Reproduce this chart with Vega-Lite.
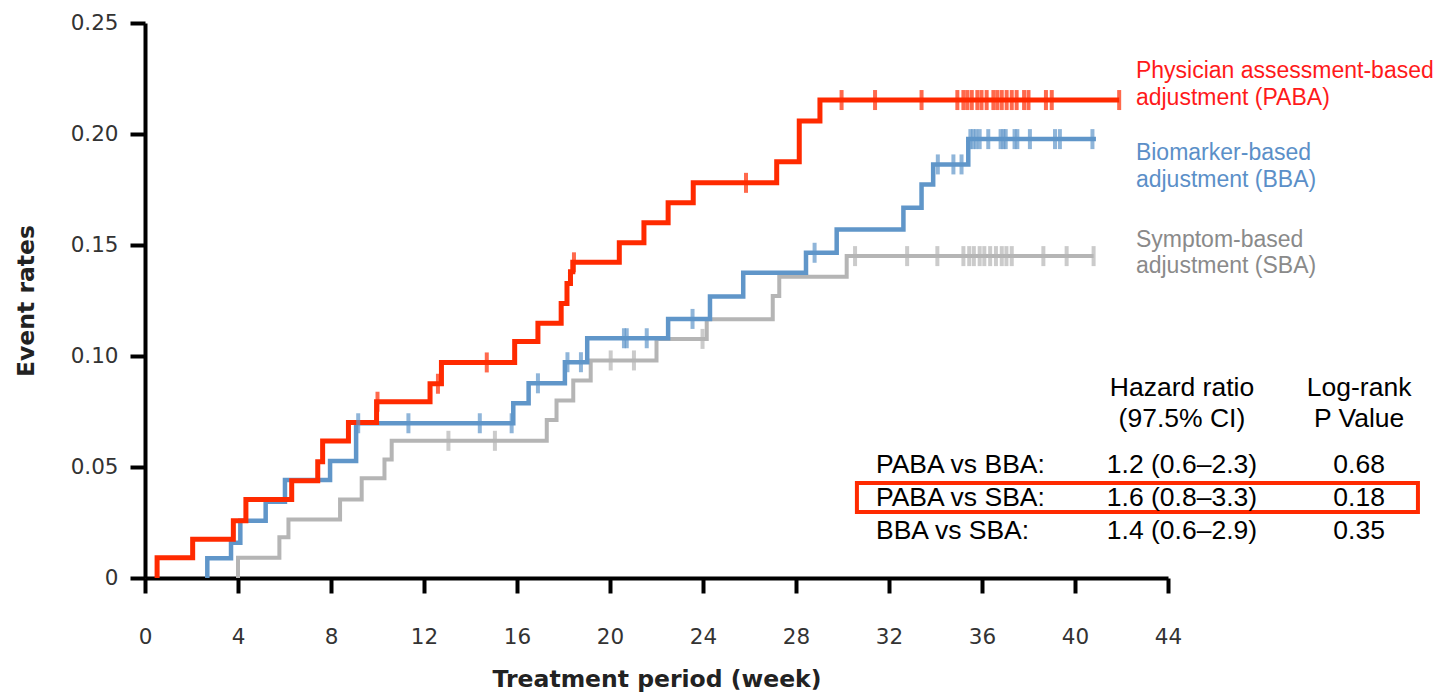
{
  "$schema": "https://vega.github.io/schema/vega-lite/v6.json",
  "width": 1023,
  "height": 555,
  "autosize": {"type": "none"},
  "padding": {"left": 145, "top": 23, "right": 280, "bottom": 117},
  "background": "white",
  "config": {"view": {"stroke": null}, "axis": {"grid": false}},
  "datasets": {
    "curves": [
      {"group": "SBA", "week": 4.0, "rate": 0},
      {"group": "SBA", "week": 4.0, "rate": 0.0091},
      {"group": "SBA", "week": 5.78, "rate": 0.0183},
      {"group": "SBA", "week": 6.17, "rate": 0.0264},
      {"group": "SBA", "week": 8.39, "rate": 0.0354},
      {"group": "SBA", "week": 9.32, "rate": 0.0449},
      {"group": "SBA", "week": 10.3, "rate": 0.0534},
      {"group": "SBA", "week": 10.61, "rate": 0.0618},
      {"group": "SBA", "week": 17.28, "rate": 0.0712},
      {"group": "SBA", "week": 17.7, "rate": 0.080},
      {"group": "SBA", "week": 18.42, "rate": 0.089},
      {"group": "SBA", "week": 19.17, "rate": 0.098},
      {"group": "SBA", "week": 22.0, "rate": 0.1077},
      {"group": "SBA", "week": 24.16, "rate": 0.1165},
      {"group": "SBA", "week": 27.0, "rate": 0.127},
      {"group": "SBA", "week": 27.28, "rate": 0.1357},
      {"group": "SBA", "week": 30.18, "rate": 0.145},
      {"group": "SBA", "week": 40.8, "rate": 0.145},
      {"group": "BBA", "week": 2.68, "rate": 0},
      {"group": "BBA", "week": 2.68, "rate": 0.0089},
      {"group": "BBA", "week": 3.7, "rate": 0.0159},
      {"group": "BBA", "week": 4.1, "rate": 0.0258},
      {"group": "BBA", "week": 5.19, "rate": 0.0344},
      {"group": "BBA", "week": 6.02, "rate": 0.0441},
      {"group": "BBA", "week": 7.96, "rate": 0.0527},
      {"group": "BBA", "week": 9.08, "rate": 0.0697},
      {"group": "BBA", "week": 15.84, "rate": 0.0787},
      {"group": "BBA", "week": 16.5, "rate": 0.0877},
      {"group": "BBA", "week": 18.06, "rate": 0.0972},
      {"group": "BBA", "week": 19.02, "rate": 0.108},
      {"group": "BBA", "week": 22.5, "rate": 0.1167},
      {"group": "BBA", "week": 24.3, "rate": 0.1268},
      {"group": "BBA", "week": 25.73, "rate": 0.1375},
      {"group": "BBA", "week": 28.43, "rate": 0.1465},
      {"group": "BBA", "week": 29.75, "rate": 0.157},
      {"group": "BBA", "week": 32.62, "rate": 0.1668},
      {"group": "BBA", "week": 33.4, "rate": 0.1773},
      {"group": "BBA", "week": 33.9, "rate": 0.1863},
      {"group": "BBA", "week": 35.41, "rate": 0.1977},
      {"group": "BBA", "week": 40.9, "rate": 0.1977},
      {"group": "PABA", "week": 0.52, "rate": 0},
      {"group": "PABA", "week": 0.52, "rate": 0.0091},
      {"group": "PABA", "week": 2.05, "rate": 0.0174},
      {"group": "PABA", "week": 3.8, "rate": 0.0258},
      {"group": "PABA", "week": 4.34, "rate": 0.0354},
      {"group": "PABA", "week": 6.31, "rate": 0.0438},
      {"group": "PABA", "week": 7.43, "rate": 0.0524},
      {"group": "PABA", "week": 7.64, "rate": 0.0617},
      {"group": "PABA", "week": 8.75, "rate": 0.070},
      {"group": "PABA", "week": 9.96, "rate": 0.0794},
      {"group": "PABA", "week": 12.26, "rate": 0.0875},
      {"group": "PABA", "week": 12.75, "rate": 0.0971},
      {"group": "PABA", "week": 15.9, "rate": 0.1065},
      {"group": "PABA", "week": 16.9, "rate": 0.1147},
      {"group": "PABA", "week": 17.9, "rate": 0.1237},
      {"group": "PABA", "week": 18.15, "rate": 0.1327},
      {"group": "PABA", "week": 18.3, "rate": 0.138},
      {"group": "PABA", "week": 18.4, "rate": 0.1422},
      {"group": "PABA", "week": 20.4, "rate": 0.151},
      {"group": "PABA", "week": 21.46, "rate": 0.160},
      {"group": "PABA", "week": 22.5, "rate": 0.169},
      {"group": "PABA", "week": 23.58, "rate": 0.178},
      {"group": "PABA", "week": 27.17, "rate": 0.1875},
      {"group": "PABA", "week": 28.14, "rate": 0.2059},
      {"group": "PABA", "week": 29.03, "rate": 0.2153},
      {"group": "PABA", "week": 41.9, "rate": 0.2153}
    ],
    "censored": [
      {"group": "SBA", "week": 13.05, "rate": 0.0618},
      {"group": "SBA", "week": 15.05, "rate": 0.0618},
      {"group": "SBA", "week": 20.03, "rate": 0.098},
      {"group": "SBA", "week": 21.03, "rate": 0.098},
      {"group": "SBA", "week": 23.98, "rate": 0.1077},
      {"group": "SBA", "week": 30.54, "rate": 0.145},
      {"group": "SBA", "week": 32.78, "rate": 0.145},
      {"group": "SBA", "week": 34.08, "rate": 0.145},
      {"group": "SBA", "week": 35.2, "rate": 0.145},
      {"group": "SBA", "week": 35.45, "rate": 0.145},
      {"group": "SBA", "week": 35.65, "rate": 0.145},
      {"group": "SBA", "week": 35.9, "rate": 0.145},
      {"group": "SBA", "week": 36.1, "rate": 0.145},
      {"group": "SBA", "week": 36.35, "rate": 0.145},
      {"group": "SBA", "week": 36.6, "rate": 0.145},
      {"group": "SBA", "week": 36.85, "rate": 0.145},
      {"group": "SBA", "week": 37.05, "rate": 0.145},
      {"group": "SBA", "week": 37.28, "rate": 0.145},
      {"group": "SBA", "week": 38.64, "rate": 0.145},
      {"group": "SBA", "week": 39.64, "rate": 0.145},
      {"group": "SBA", "week": 40.8, "rate": 0.145},
      {"group": "BBA", "week": 9.17, "rate": 0.0697},
      {"group": "BBA", "week": 11.33, "rate": 0.0697},
      {"group": "BBA", "week": 14.4, "rate": 0.0697},
      {"group": "BBA", "week": 15.77, "rate": 0.0697},
      {"group": "BBA", "week": 16.9, "rate": 0.0877},
      {"group": "BBA", "week": 18.17, "rate": 0.0972},
      {"group": "BBA", "week": 18.75, "rate": 0.0972},
      {"group": "BBA", "week": 20.6, "rate": 0.108},
      {"group": "BBA", "week": 20.72, "rate": 0.108},
      {"group": "BBA", "week": 21.58, "rate": 0.108},
      {"group": "BBA", "week": 23.55, "rate": 0.1167},
      {"group": "BBA", "week": 28.8, "rate": 0.1465},
      {"group": "BBA", "week": 34.1, "rate": 0.1863},
      {"group": "BBA", "week": 34.77, "rate": 0.1863},
      {"group": "BBA", "week": 35.12, "rate": 0.1863},
      {"group": "BBA", "week": 35.5, "rate": 0.1977},
      {"group": "BBA", "week": 35.62, "rate": 0.1977},
      {"group": "BBA", "week": 35.75, "rate": 0.1977},
      {"group": "BBA", "week": 35.9, "rate": 0.1977},
      {"group": "BBA", "week": 36.27, "rate": 0.1977},
      {"group": "BBA", "week": 36.8, "rate": 0.1977},
      {"group": "BBA", "week": 36.92, "rate": 0.1977},
      {"group": "BBA", "week": 37.02, "rate": 0.1977},
      {"group": "BBA", "week": 37.4, "rate": 0.1977},
      {"group": "BBA", "week": 37.52, "rate": 0.1977},
      {"group": "BBA", "week": 38.06, "rate": 0.1977},
      {"group": "BBA", "week": 39.14, "rate": 0.1977},
      {"group": "BBA", "week": 39.35, "rate": 0.1977},
      {"group": "BBA", "week": 40.75, "rate": 0.1977},
      {"group": "PABA", "week": 10.0, "rate": 0.0794},
      {"group": "PABA", "week": 12.6, "rate": 0.0875},
      {"group": "PABA", "week": 14.7, "rate": 0.0971},
      {"group": "PABA", "week": 18.45, "rate": 0.1422},
      {"group": "PABA", "week": 25.85, "rate": 0.178},
      {"group": "PABA", "week": 29.96, "rate": 0.2153},
      {"group": "PABA", "week": 31.4, "rate": 0.2153},
      {"group": "PABA", "week": 33.4, "rate": 0.2153},
      {"group": "PABA", "week": 34.94, "rate": 0.2153},
      {"group": "PABA", "week": 35.2, "rate": 0.2153},
      {"group": "PABA", "week": 35.37, "rate": 0.2153},
      {"group": "PABA", "week": 35.56, "rate": 0.2153},
      {"group": "PABA", "week": 35.8, "rate": 0.2153},
      {"group": "PABA", "week": 35.98, "rate": 0.2153},
      {"group": "PABA", "week": 36.2, "rate": 0.2153},
      {"group": "PABA", "week": 36.49, "rate": 0.2153},
      {"group": "PABA", "week": 36.66, "rate": 0.2153},
      {"group": "PABA", "week": 36.85, "rate": 0.2153},
      {"group": "PABA", "week": 37.06, "rate": 0.2153},
      {"group": "PABA", "week": 37.28, "rate": 0.2153},
      {"group": "PABA", "week": 37.49, "rate": 0.2153},
      {"group": "PABA", "week": 37.81, "rate": 0.2153},
      {"group": "PABA", "week": 38.0, "rate": 0.2153},
      {"group": "PABA", "week": 38.75, "rate": 0.2153},
      {"group": "PABA", "week": 39.0, "rate": 0.2153},
      {"group": "PABA", "week": 41.9, "rate": 0.2153}
    ],
    "seriesLabels": [
      {"group": "PABA", "week": 42.62, "rate": 0.2251, "text": "Physician assessment-based"},
      {"group": "PABA", "week": 42.62, "rate": 0.2131, "text": "adjustment (PABA)"},
      {"group": "BBA", "week": 42.62, "rate": 0.1883, "text": "Biomarker-based"},
      {"group": "BBA", "week": 42.62, "rate": 0.1763, "text": "adjustment (BBA)"},
      {"group": "SBA", "week": 42.62, "rate": 0.1492, "text": "Symptom-based"},
      {"group": "SBA", "week": 42.62, "rate": 0.1373, "text": "adjustment (SBA)"}
    ],
    "tableRowNames": [
      {"week": 31.44, "rate": 0.0509, "text": "PABA vs BBA:"},
      {"week": 31.44, "rate": 0.0360, "text": "PABA vs SBA:"},
      {"week": 31.44, "rate": 0.0212, "text": "BBA vs SBA:"}
    ],
    "tableCells": [
      {"week": 44.6, "rate": 0.0856, "text": "Hazard ratio"},
      {"week": 44.6, "rate": 0.0716, "text": "(97.5% CI)"},
      {"week": 52.22, "rate": 0.0856, "text": "Log-rank"},
      {"week": 52.22, "rate": 0.0716, "text": "P Value"},
      {"week": 44.6, "rate": 0.0509, "text": "1.2 (0.6–2.3)"},
      {"week": 44.6, "rate": 0.0360, "text": "1.6 (0.8–3.3)"},
      {"week": 44.6, "rate": 0.0212, "text": "1.4 (0.6–2.9)"},
      {"week": 52.22, "rate": 0.0509, "text": "0.68"},
      {"week": 52.22, "rate": 0.0360, "text": "0.18"},
      {"week": 52.22, "rate": 0.0212, "text": "0.35"}
    ],
    "highlight": [
      {"week": 30.62, "week2": 54.75, "rate": 0.0428, "rate2": 0.0297}
    ]
  },
  "encoding": {
    "x": {
      "field": "week",
      "type": "quantitative",
      "scale": {"domain": [0, 44], "nice": false, "zero": false},
      "axis": {
        "title": "Treatment period (week)",
        "values": [0, 4, 8, 12, 16, 20, 24, 28, 32, 36, 40, 44],
        "domainColor": "#000000",
        "domainWidth": 4,
        "tickColor": "#000000",
        "tickWidth": 4,
        "tickSize": 15,
        "labelFont": "DejaVu Sans",
        "labelFontSize": 21.5,
        "labelColor": "#333333",
        "labelPadding": 33,
        "labelFlush": false,
        "titleFont": "DejaVu Sans",
        "titleFontSize": 23.5,
        "titleFontWeight": "bold",
        "titleColor": "#222222",
        "titlePadding": 20
      }
    },
    "y": {
      "field": "rate",
      "type": "quantitative",
      "scale": {"domain": [0, 0.25], "nice": false},
      "axis": {
        "title": "Event rates",
        "values": [0, 0.05, 0.1, 0.15, 0.2, 0.25],
        "labelExpr": "datum.value === 0 ? '0' : format(datum.value, '.2f')",
        "domainColor": "#000000",
        "domainWidth": 4,
        "tickColor": "#000000",
        "tickWidth": 4,
        "tickSize": 15,
        "labelFont": "DejaVu Sans",
        "labelFontSize": 21.5,
        "labelColor": "#333333",
        "labelPadding": 12,
        "labelFlush": false,
        "titleFont": "DejaVu Sans",
        "titleFontSize": 23.5,
        "titleFontWeight": "bold",
        "titleColor": "#222222",
        "titlePadding": 32
      }
    }
  },
  "layer": [
    {
      "data": {"name": "highlight"},
      "mark": {"type": "rect", "fillOpacity": 0, "stroke": "#ff2a00", "strokeWidth": 4},
      "encoding": {
        "x2": {"field": "week2"},
        "y2": {"field": "rate2"}
      }
    },
    {
      "data": {"name": "curves"},
      "mark": {"type": "line", "interpolate": "step-after", "strokeCap": "butt"},
      "encoding": {
        "order": {"value": null},
        "color": {
          "field": "group",
          "type": "nominal",
          "scale": {"domain": ["PABA", "BBA", "SBA"], "range": ["#ff2a00", "#6096c9", "#b5b5b5"]},
          "legend": null
        },
        "strokeWidth": {
          "field": "group",
          "type": "nominal",
          "scale": {"domain": ["PABA", "BBA", "SBA"], "range": [5, 4, 4]},
          "legend": null
        }
      }
    },
    {
      "data": {"name": "censored"},
      "mark": {"type": "tick", "orient": "vertical", "size": 20, "thickness": 4},
      "encoding": {
        "color": {
          "field": "group",
          "type": "nominal",
          "scale": {"domain": ["PABA", "BBA", "SBA"], "range": ["#ff2a00", "#6096c9", "#b5b5b5"]},
          "legend": null
        }
      }
    },
    {
      "data": {"name": "seriesLabels"},
      "mark": {"type": "text", "align": "left", "baseline": "alphabetic", "font": "Liberation Sans", "fontSize": 23},
      "encoding": {
        "text": {"field": "text"},
        "color": {
          "field": "group",
          "type": "nominal",
          "scale": {"domain": ["PABA", "BBA", "SBA"], "range": ["#ff1a1a", "#5b8fc8", "#8a8a8a"]},
          "legend": null
        }
      }
    },
    {
      "data": {"name": "tableRowNames"},
      "mark": {"type": "text", "align": "left", "baseline": "middle", "font": "Liberation Sans", "fontSize": 26.5, "color": "#000000"},
      "encoding": {"text": {"field": "text"}}
    },
    {
      "data": {"name": "tableCells"},
      "mark": {"type": "text", "align": "center", "baseline": "middle", "font": "Liberation Sans", "fontSize": 26.5, "color": "#000000"},
      "encoding": {"text": {"field": "text"}}
    }
  ],
  "resolve": {"scale": {"color": "independent"}}
}
